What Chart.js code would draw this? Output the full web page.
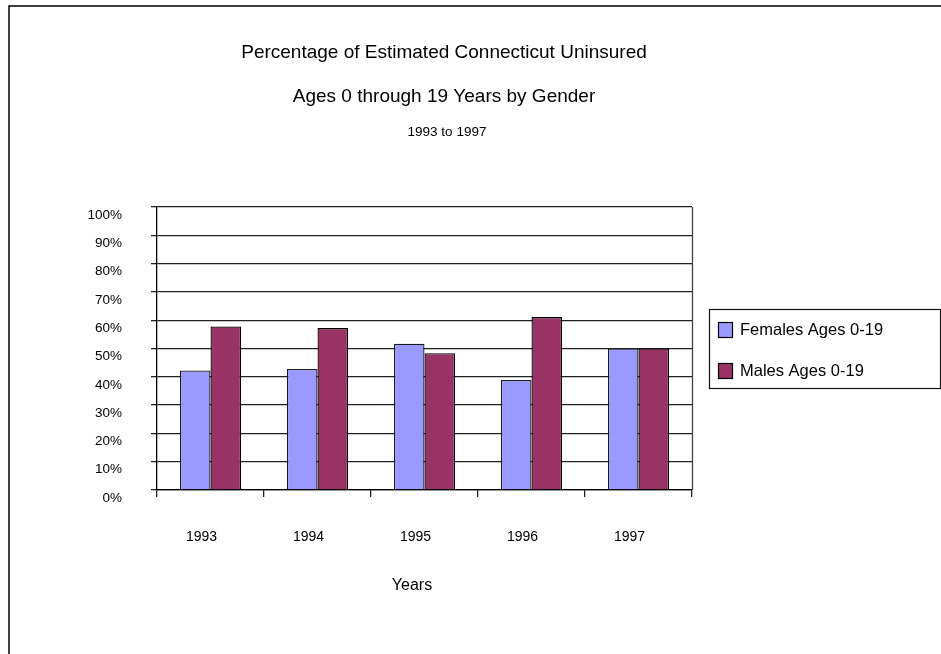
<!DOCTYPE html>
<html>
<head>
<meta charset="utf-8">
<title>Percentage of Estimated Connecticut Uninsured</title>
<script src="https://cdn.jsdelivr.net/npm/chart.js@4/dist/chart.umd.min.js"></script>
<style>
  html, body { margin: 0; padding: 0; background: #ffffff; }
  canvas { display: block; }
</style>
</head>
<body>
<canvas id="chart" width="941" height="654"></canvas>
<script>
// Chart data
const years = ['1993', '1994', '1995', '1996', '1997'];
const femalesPct = [42.2, 42.8, 51.7, 38.9, 50.0];
const malesPct = [57.8, 57.2, 48.3, 61.1, 50.0];
const seriesNames = ['Females Ages 0-19', 'Males Ages 0-19'];
const titleLines = ['Percentage of Estimated Connecticut Uninsured', 'Ages 0 through 19 Years by Gender'];
const subtitleText = '1993 to 1997';
const xAxisTitle = 'Years';

const FONT = "'Liberation Sans', Arial, Helvetica, sans-serif";

// Frame, titles, plot border and boxed legend
const decorations = {
  id: 'decorations',
  beforeDraw(chart) {
    const ctx = chart.ctx;
    ctx.save();
    ctx.fillStyle = '#ffffff';
    ctx.fillRect(0, 0, chart.width, chart.height);
    // outer frame (top and left edges visible)
    ctx.strokeStyle = '#000000';
    ctx.lineWidth = 1.5;
    ctx.beginPath();
    ctx.moveTo(9, chart.height);
    ctx.lineTo(9, 6);
    ctx.lineTo(chart.width, 6);
    ctx.stroke();
    ctx.restore();
  },
  afterDraw(chart) {
    const ctx = chart.ctx;
    const area = chart.chartArea;
    ctx.save();

    // right edge of the plot area
    ctx.strokeStyle = '#444444';
    ctx.lineWidth = 1.3;
    ctx.beginPath();
    ctx.moveTo(Math.round(area.right) + 0.5, area.top);
    ctx.lineTo(Math.round(area.right) + 0.5, area.bottom);
    ctx.stroke();

    // titles
    ctx.fillStyle = '#000000';
    ctx.textAlign = 'center';
    ctx.textBaseline = 'middle';
    ctx.font = '19px ' + FONT;
    ctx.fillText(titleLines[0], 444, 53);
    ctx.fillText(titleLines[1], 444, 97);
    ctx.font = '13.5px ' + FONT;
    ctx.fillText(subtitleText, 447, 132);

    // axis title
    ctx.font = '16px ' + FONT;
    ctx.fillText(xAxisTitle, 412, 586);

    // legend box
    const lx = 709.5, ly = 309.5, lw = 231, lh = 79;
    ctx.strokeStyle = '#111111';
    ctx.lineWidth = 1.2;
    ctx.strokeRect(lx, ly, lw, lh);
    ctx.font = '16.5px ' + FONT;
    ctx.textAlign = 'left';
    const rows = [330, 371];
    chart.data.datasets.forEach((ds, i) => {
      const cy = rows[i];
      ctx.fillStyle = ds.backgroundColor;
      ctx.fillRect(718.5, cy - 7.5, 14, 15);
      ctx.strokeStyle = '#000000';
      ctx.lineWidth = 1.2;
      ctx.strokeRect(718.5, cy - 7.5, 14, 15);
      ctx.fillStyle = '#000000';
      ctx.fillText(ds.label, 740, cy);
    });
    ctx.restore();
  }
};

new Chart(document.getElementById('chart'), {
  type: 'bar',
  data: {
    labels: years,
    datasets: [
      {
        label: seriesNames[0],
        data: femalesPct,
        backgroundColor: '#9999ff',
        borderColor: '#1a1a1a',
        borderWidth: 1.3
      },
      {
        label: seriesNames[1],
        data: malesPct,
        backgroundColor: '#993366',
        borderColor: '#000000',
        borderWidth: 1.3
      }
    ]
  },
  options: {
    responsive: false,
    animation: false,
    events: [],
    layout: { padding: { top: 207, right: 249, bottom: 0, left: 0 } },
    datasets: {
      bar: { categoryPercentage: 0.572, barPercentage: 1.0 }
    },
    plugins: {
      legend: { display: false },
      title: { display: false },
      tooltip: { enabled: false }
    },
    scales: {
      x: {
        grid: {
          offset: true,
          drawOnChartArea: false,
          drawTicks: true,
          tickLength: 7,
          color: '#222222',
          lineWidth: 1.3
        },
        border: { color: '#000000', width: 1.3 },
        ticks: {
          color: '#000000',
          font: { family: FONT, size: 14 },
          padding: 32,
          labelOffset: -9,
          maxRotation: 0
        },
        afterFit(scale) { scale.height = 164; }
      },
      y: {
        min: 0,
        max: 100,
        grid: {
          color: '#222222',
          lineWidth: 1.3,
          tickLength: 6,
          drawTicks: true
        },
        border: { color: '#000000', width: 1.3 },
        ticks: {
          stepSize: 10,
          color: '#000000',
          font: { family: FONT, size: 13.5 },
          padding: 29,
          labelOffset: 8,
          callback: (v) => v + '%'
        },
        afterFit(scale) { scale.width = 157; }
      }
    }
  },
  plugins: [decorations]
});
</script>
</body>
</html>
